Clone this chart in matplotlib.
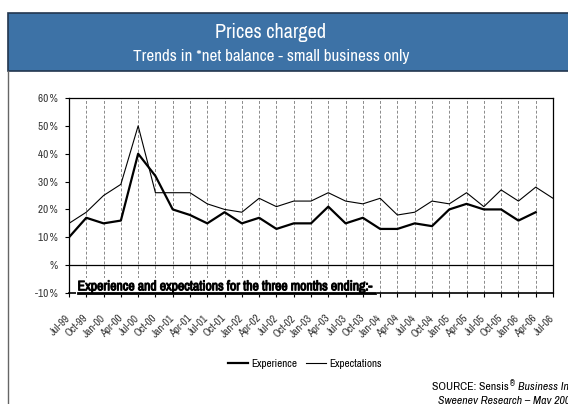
import matplotlib
matplotlib.use('Agg')
import matplotlib.pyplot as plt
import matplotlib.font_manager as fm
import matplotlib.patheffects as pe
from matplotlib.patches import Rectangle
from matplotlib.lines import Line2D
import numpy as np

# prefer a narrow face if one is installed
narrow = sorted({f.name for f in fm.fontManager.ttflist
                 if f.stretch in ('condensed', 'semi-condensed', 'extra-condensed', 'ultra-condensed')
                 or 'Narrow' in f.name or 'Condensed' in f.name})
if narrow:
    plt.rcParams['font.family'] = [narrow[0], 'DejaVu Sans']
    plt.rcParams['font.stretch'] = 'condensed'
    scale = 1.0
else:
    plt.rcParams['font.family'] = ['DejaVu Sans']
    scale = 0.8

quarters = ['Jul-99', 'Oct-99', 'Jan-00', 'Apr-00', 'Jul-00', 'Oct-00', 'Jan-01',
            'Apr-01', 'Jul-01', 'Oct-01', 'Jan-02', 'Apr-02', 'Jul-02', 'Oct-02',
            'Jan-03', 'Apr-03', 'Jul-03', 'Oct-03', 'Jan-04', 'Apr-04', 'Jul-04',
            'Oct-04', 'Jan-05', 'Apr-05', 'Jul-05', 'Oct-05', 'Jan-06', 'Apr-06',
            'Jul-06']
# net balance, % (experience has no Jul-06 reading yet)
experience = [10, 17, 15, 16, 40, 32, 20, 18, 15, 19, 15, 17, 13, 15, 15, 21,
              15, 17, 13, 13, 15, 14, 20, 22, 20, 20, 16, 19, np.nan]
expectations = [15, 19, 25, 29, 50, 26, 26, 26, 22, 20, 19, 24, 21, 23, 23, 26,
                23, 22, 24, 18, 19, 23, 22, 26, 21, 27, 23, 28, 24]
y_ticks = [-10, 0, 10, 20, 30, 40, 50, 60]
y_labels = ['-10\u2009%', '%', '10\u2009%', '20\u2009%', '30\u2009%', '40\u2009%',
            '50\u2009%', '60\u2009%']

W, H = 568, 404
fig = plt.figure(figsize=(W / 100, H / 100), dpi=100)

# header band
fig.patches.append(Rectangle((8 / W, 1 - 71 / H), 1.2, 58 / H, transform=fig.transFigure,
                             facecolor='#3D72A6', edgecolor='#22364F', linewidth=1.2))
fig.lines.append(Line2D([8 / W, 8 / W], [0, 1 - 71 / H], transform=fig.transFigure,
                        color='#666666', linewidth=1.0))
fig.text(271 / W, 1 - 32 / H, 'Prices charged', color='white', fontsize=14.5 * scale,
         ha='center', va='center')
fig.text(271 / W, 1 - 57 / H, 'Trends in *net balance - small business only',
         color='white', fontsize=12.3 * scale, ha='center', va='center')

ax = fig.add_axes([69 / W, 1 - 293 / H, (553 - 69) / W, (293 - 98) / H])
x = np.arange(len(quarters))
ax.plot(x, expectations, color='black', linewidth=0.8, label='Expectations', zorder=3)
ax.plot(x, experience, color='black', linewidth=1.6, label='Experience', zorder=4)

ax.set_xlim(0, len(quarters) - 1)
ax.set_ylim(-10, 60)
for xi in x[1:-1]:
    ax.axvline(xi, color='#8A8A8A', linestyle=(0, (3, 2)), linewidth=0.7, zorder=1)
ax.axhline(0, color='black', linewidth=0.9, zorder=2)

ax.set_yticks(y_ticks)
ax.set_yticklabels(y_labels)
ax.set_xticks(x)
ax.set_xticklabels(quarters, rotation=45, ha='right', va='center', rotation_mode='anchor')
ax.tick_params(axis='y', length=3, width=0.8, pad=5, labelsize=8 * scale, labelcolor='#333333')
ax.tick_params(axis='x', length=3, width=0.8, pad=14, labelsize=7.8 * scale, labelcolor='#333333')
for side in ['top', 'right', 'left']:
    ax.spines[side].set_linewidth(0.9)
ax.spines['bottom'].set_linewidth(1.2)

note = ax.text(0.5, -7.6, 'Experience and expectations for the three months ending:-',
               fontsize=9.9 * scale, ha='left', va='center', zorder=5,
               path_effects=[pe.withStroke(linewidth=0.7, foreground='black')],
               bbox=dict(facecolor='white', edgecolor='none', pad=1.2))
fig.canvas.draw()
bb = note.get_window_extent().transformed(fig.transFigure.inverted())
fig.lines.append(Line2D([bb.x0, bb.x1], [1 - 293 / H, 1 - 293 / H], transform=fig.transFigure,
                        color='black', linewidth=2.0))

handles, labels = ax.get_legend_handles_labels()
fig.legend(handles[::-1], labels[::-1], loc='center', bbox_to_anchor=(305 / W, 1 - 364 / H),
           ncol=2, frameon=False, fontsize=8 * scale, handlelength=1.8, handletextpad=0.3,
           columnspacing=0.8)

src = fig.text(432 / W, 1 - 387 / H, 'SOURCE: Sensis', fontsize=8.5 * scale,
               ha='left', va='center')
fig.canvas.draw()
sb = src.get_window_extent().transformed(fig.transFigure.inverted())
reg = fig.text(sb.x1 + 1 / W, 1 - 384 / H, '\u00ae', fontsize=6 * scale, ha='left', va='center')
fig.canvas.draw()
rb = reg.get_window_extent().transformed(fig.transFigure.inverted())
fig.text(rb.x1 + 3 / W, 1 - 387 / H, 'Business Index', fontsize=8.5 * scale, style='italic',
         ha='left', va='center')
fig.text(438 / W, 1 - 401 / H, 'Sweeney Research \u2013 May 2006', fontsize=8.5 * scale,
         style='italic', ha='left', va='center')

fig.savefig('out.png', dpi=100)
